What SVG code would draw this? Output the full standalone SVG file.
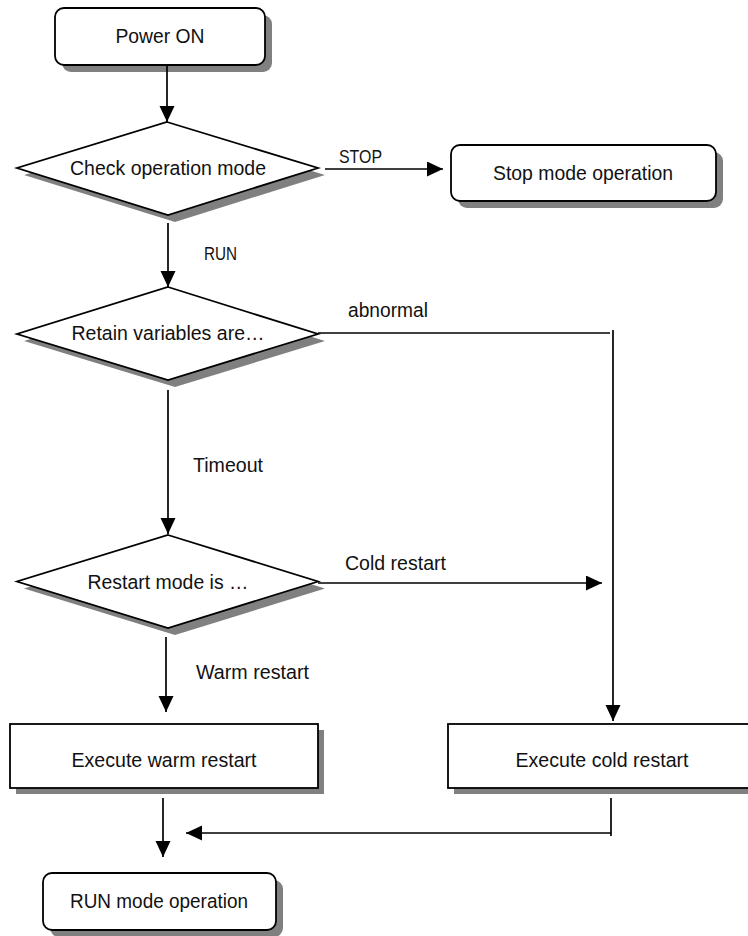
<svg xmlns="http://www.w3.org/2000/svg" width="748" height="936" viewBox="0 0 748 936">
<style>
.sh{fill:#808080;stroke:none}
.bx{fill:#fff;stroke:#000;stroke-width:1.8}
.t{font-family:"Liberation Sans",Arial,sans-serif;font-size:20.5px;fill:#111;text-anchor:middle}
.l{font-family:"Liberation Sans",Arial,sans-serif;font-size:20.5px;fill:#111}
.n{font-family:"Liberation Sans",Arial,sans-serif;font-size:18.5px;fill:#111}
.c{fill:none;stroke:#000;stroke-width:1.7}
</style>
<defs>
<marker id="ah" markerUnits="userSpaceOnUse" markerWidth="17" markerHeight="16" refX="16" refY="7.5" orient="auto">
<path d="M0,0 L16,7.5 L0,15 z" fill="#000"/>
</marker>
</defs>
<rect width="748" height="936" fill="#fff"/>

<g id="power-on">
<rect class="sh" x="62" y="15" width="210" height="57" rx="9"/>
<rect class="bx" x="55" y="8" width="210" height="57" rx="9"/>
<text class="t" x="160" y="43" textLength="89" lengthAdjust="spacingAndGlyphs">Power ON</text>
</g>

<g id="check-mode">
<polygon class="sh" points="174,129 325,175 175,222 24,175"/>
<polygon class="bx" points="167,122 318,168 168,215 17,168"/>
<text class="t" x="168" y="175" textLength="196" lengthAdjust="spacingAndGlyphs">Check operation mode</text>
</g>

<g id="stop-mode">
<rect class="sh" x="458" y="152" width="265" height="56" rx="9"/>
<rect class="bx" x="451" y="145" width="265" height="56" rx="9"/>
<text class="t" x="583" y="180" textLength="180" lengthAdjust="spacingAndGlyphs">Stop mode operation</text>
</g>

<g id="retain-vars">
<polygon class="sh" points="175,294 325,341 175,387 24,341"/>
<polygon class="bx" points="168,287 318,334 168,380 17,334"/>
<text class="t" x="168" y="340" textLength="193" lengthAdjust="spacingAndGlyphs">Retain variables are…</text>
</g>

<g id="restart-mode">
<polygon class="sh" points="175,542 325,588.5 175,635 24,588.5"/>
<polygon class="bx" points="168,535 318,581.5 168,628 17,581.5"/>
<text class="t" x="168" y="589" textLength="161" lengthAdjust="spacingAndGlyphs">Restart mode is …</text>
</g>

<g id="warm-restart">
<rect class="sh" x="16" y="730" width="308" height="64"/>
<rect class="bx" x="10" y="724" width="308" height="64"/>
<text class="t" x="164" y="767" textLength="185" lengthAdjust="spacingAndGlyphs">Execute warm restart</text>
</g>

<g id="cold-restart">
<rect class="sh" x="454" y="730" width="308" height="64"/>
<rect class="bx" x="448" y="724" width="308" height="64"/>
<text class="t" x="602" y="767" textLength="173" lengthAdjust="spacingAndGlyphs">Execute cold restart</text>
</g>

<g id="run-mode">
<rect class="sh" x="50" y="880" width="233" height="57" rx="9"/>
<rect class="bx" x="43" y="873" width="233" height="57" rx="9"/>
<text class="t" x="159" y="908" textLength="178" lengthAdjust="spacingAndGlyphs">RUN mode operation</text>
</g>

<g id="connectors">
<line class="c" x1="167" y1="65" x2="167" y2="122" marker-end="url(#ah)"/>
<line class="c" x1="325" y1="169" x2="443" y2="169" marker-end="url(#ah)"/>
<text class="n" x="339" y="163" textLength="43" lengthAdjust="spacingAndGlyphs">STOP</text>
<line class="c" x1="168" y1="223" x2="168" y2="287" marker-end="url(#ah)"/>
<text class="n" x="204" y="260" textLength="33" lengthAdjust="spacingAndGlyphs">RUN</text>
<line class="c" x1="318" y1="333" x2="610" y2="333"/>
<line class="c" x1="613" y1="330" x2="613" y2="721" marker-end="url(#ah)"/>
<text class="l" x="348" y="317" textLength="80" lengthAdjust="spacingAndGlyphs">abnormal</text>
<line class="c" x1="168" y1="390" x2="168" y2="534" marker-end="url(#ah)"/>
<text class="l" x="193" y="472" textLength="70" lengthAdjust="spacingAndGlyphs">Timeout</text>
<line class="c" x1="318" y1="583" x2="602" y2="583" marker-end="url(#ah)"/>
<text class="l" x="345" y="570" textLength="101" lengthAdjust="spacingAndGlyphs">Cold restart</text>
<line class="c" x1="166" y1="637" x2="166" y2="712" marker-end="url(#ah)"/>
<text class="l" x="196" y="679" textLength="113" lengthAdjust="spacingAndGlyphs">Warm restart</text>
<line class="c" x1="163" y1="798" x2="163" y2="857" marker-end="url(#ah)"/>
<polyline class="c" points="611,798 611,836"/>
<line class="c" x1="611" y1="833" x2="186" y2="833" marker-end="url(#ah)"/>
</g>
</svg>
